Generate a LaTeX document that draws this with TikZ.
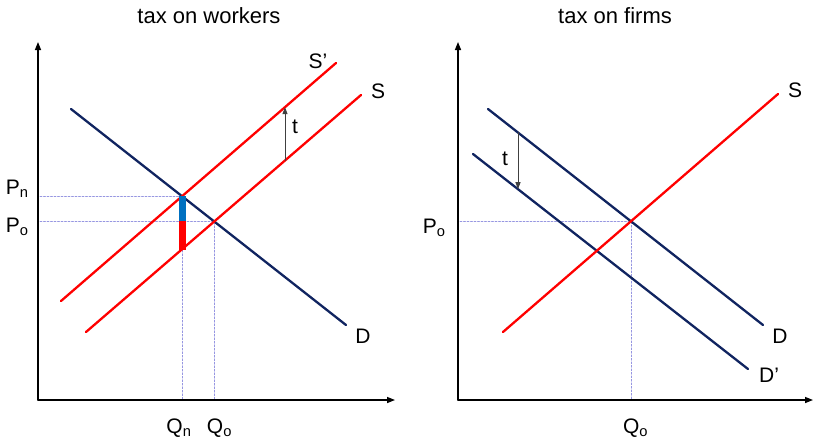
\documentclass[tikz,border=0pt]{standalone}
\usepackage{fontspec}
\setmainfont{Liberation Sans}
\usetikzlibrary{intersections,calc,arrows.meta}
\definecolor{navy}{RGB}{16,36,96}
\definecolor{suppred}{RGB}{255,0,0}
\definecolor{barblue}{RGB}{0,112,192}
\definecolor{guide}{RGB}{150,150,225}
\tikzset{
  axis/.style={->,line width=1.4pt},
  demand/.style={navy,line width=2.3pt},
  supply/.style={suppred,line width=2.3pt},
  guideline/.style={guide,line width=0.6pt,dash pattern=on 2pt off 1.5pt},
  taxarrow/.style={-{Triangle[length=7pt,width=5pt]},line width=0.9pt,black!75},
  lbl/.style={font=\fontsize{21}{24}\selectfont},
  ttl/.style={font=\fontsize{22}{26}\selectfont,anchor=base},
  incidence/.style={line width=7pt,line cap=butt}
}
\begin{document}
\begin{tikzpicture}[x=1pt,y=-1pt,>={Triangle[length=8pt,width=6pt]},line join=round,line cap=round]
\useasboundingbox (0,0) rectangle (814,440);
% ---- left: tax on workers
\def\oxl{38} \def\oy{400}
\path[name path=DL] (71,109)--(346,325);
\path[name path=SL] (86,332)--(361,95);
\path[name path=SpL] (61,301)--(336,63);
\path[name path=tL] (285,40)--(285,200);
\path[name intersections={of=DL and SpL,by=En}];
\path[name intersections={of=DL and SL,by=Eo}];
\path[name intersections={of=tL and SL,by=tLlow}];
\path[name intersections={of=tL and SpL,by=tLup}];
\coordinate (Bl) at ($(En)+(0,54)$);
\draw[guideline] (40,0 |- En) -- (En) -- (En |- 0,\oy);
\draw[guideline] (40,0 |- Eo) -- (Eo) -- (Eo |- 0,\oy);
\draw[axis] (\oxl,\oy)--(\oxl,42);
\draw[axis] (\oxl,\oy)--(395,\oy);
\draw[demand] (71,109)--(346,325);
\draw[supply] (86,332)--(361,95);
\draw[supply] (61,301)--(336,63);
\draw[incidence,barblue] (En) -- (En |- Eo);
\draw[incidence,suppred] (En |- Eo) -- (Bl);
\draw[taxarrow] (tLlow) -- (tLup);
\node[ttl] (titleL) at (209,23) {tax on workers};
\node[lbl] (SpLlab) at (318,61) {S’};
\node[lbl] (SLlab) at (378,91) {S};
\node[lbl] (DLlab) at (363,336) {D};
\node[lbl] (tLlab) at (295,127) {t};
\node[lbl,anchor=base east] (PnL) at (32,194) {P\textsubscript{n}};
\node[lbl,anchor=base east] (PoL) at (32,232) {P\textsubscript{o}};
\node[lbl,anchor=base] (QnL) at (179,433) {Q\textsubscript{n}};
\node[lbl,anchor=base] (QoL) at (219.5,433) {Q\textsubscript{o}};
% ---- right: tax on firms
\def\oxr{458}
\path[name path=DR] (488,109)--(763,325);
\path[name path=DpR] (473,154)--(748,369);
\path[name path=SR] (503,332)--(778,94);
\path[name path=tR] (518,80)--(518,220);
\path[name intersections={of=DR and SR,by=Er}];
\path[name intersections={of=tR and DR,by=tRup}];
\path[name intersections={of=tR and DpR,by=tRlow}];
\draw[guideline] (460,0 |- Er) -- (Er) -- (Er |- 0,\oy);
\draw[axis] (\oxr,\oy)--(\oxr,42);
\draw[axis] (\oxr,\oy)--(813,\oy);
\draw[demand] (488,109)--(763,325);
\draw[demand] (473,154)--(748,369);
\draw[supply] (503,332)--(778,94);
\draw[taxarrow] (tRup) -- (tRlow);
\node[ttl] (titleR) at (615,23) {tax on firms};
\node[lbl] (SRlab) at (795,90) {S};
\node[lbl] (DRlab) at (780,336) {D};
\node[lbl] (DpRlab) at (769,375) {D’};
\node[lbl] (tRlab) at (505,159) {t};
\node[lbl,anchor=base east] (PoR) at (449,233) {P\textsubscript{o}};
\node[lbl,anchor=base] (QoR) at (635.5,433) {Q\textsubscript{o}};
\end{tikzpicture}
\end{document}
